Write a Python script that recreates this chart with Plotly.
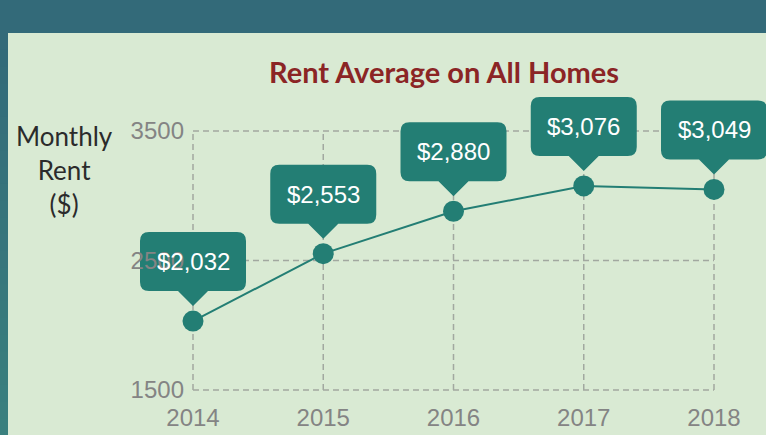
import plotly.graph_objects as go

years = [2014, 2015, 2016, 2017, 2018]
rent = [2032, 2553, 2880, 3076, 3049]
labels = ["$2,032", "$2,553", "$2,880", "$3,076", "$3,049"]
y_ticks = [1500, 2500, 3500]
y_title_lines = ["Monthly", "Rent", "($)"]
title = "Rent Average on All Homes"

TEAL = "#237e74"
BG_TOP = (51, 106, 121)
BG_BOT = (58, 128, 126)
PANEL = "#d9ead3"
GRID = "#a2a8a0"
TICK = "#848484"

# layout geometry (pixels)
ML, MR, MT, MB = 130, 0, 88, 40
W_FIG, H_FIG = 766, 435
PW, PH = W_FIG - ML - MR, H_FIG - MT - MB
X_RANGE = [2013.5163, 2013.5163 + PW / 130.25]
Y_RANGE = [1500 - 5 / 0.1295, 1500 - 5 / 0.1295 + PH / 0.1295]

def px_to_paper_x(px):
    return (px - ML) / PW

def px_to_paper_y(py):
    return (H_FIG - MB - py) / PH

fig = go.Figure()
fig.add_trace(go.Scatter(
    x=years, y=rent, mode="lines+markers",
    line=dict(color=TEAL, width=2),
    marker=dict(color=TEAL, size=21),
    cliponaxis=False, hoverinfo="skip", showlegend=False,
))

shapes = []
# dark frame (top band + left strip with a gentle gradient)
shapes.append(dict(type="rect", xref="paper", yref="paper",
                   x0=px_to_paper_x(-5), x1=px_to_paper_x(W_FIG + 5),
                   y0=px_to_paper_y(-5), y1=px_to_paper_y(33),
                   fillcolor="rgb(%d,%d,%d)" % BG_TOP, line=dict(width=0), layer="below"))
N = 24
for i in range(N):
    t = i / (N - 1)
    c = tuple(round(BG_TOP[k] + (BG_BOT[k] - BG_TOP[k]) * t) for k in range(3))
    y0 = 33 + (H_FIG - 33) * i / N
    y1 = 33 + (H_FIG - 33) * (i + 1) / N + 1
    shapes.append(dict(type="rect", xref="paper", yref="paper",
                       x0=px_to_paper_x(-5), x1=px_to_paper_x(8),
                       y0=px_to_paper_y(y1), y1=px_to_paper_y(y0),
                       fillcolor="rgb(%d,%d,%d)" % c, line=dict(width=0), layer="below"))

# dashed grid limited to the data frame
for x in years:
    shapes.append(dict(type="line", xref="x", yref="y", x0=x, x1=x,
                       y0=y_ticks[0], y1=y_ticks[-1],
                       line=dict(color=GRID, width=1.5, dash="6px,4px"), layer="below"))
for y in y_ticks:
    shapes.append(dict(type="line", xref="x", yref="y", x0=years[0], x1=years[-1],
                       y0=y, y1=y,
                       line=dict(color=GRID, width=1.5, dash="6px,4px"), layer="below"))

# callout bubbles (pixel-sized, anchored at each data point)
BW, BH, R, B = 53, 59, 9, 30
def callout_path():
    l, r, b, t = -BW, BW, B, B + BH
    return (f"M {l+R},{t} L {r-R},{t} Q {r},{t} {r},{t-R} L {r},{b+R} Q {r},{b} {r-R},{b} "
            f"L 15,{b} L 0,{b-15} L -15,{b} L {l+R},{b} Q {l},{b} {l},{b+R} "
            f"L {l},{t-R} Q {l},{t} {l+R},{t} Z")

for x, y in zip(years, rent):
    shapes.append(dict(type="path", xref="x", yref="y", xsizemode="pixel", ysizemode="pixel",
                       xanchor=x, yanchor=y, path=callout_path(), fillcolor=TEAL,
                       line=dict(width=0), layer="between"))

annotations = []
for x, y, t in zip(years, rent, labels):
    annotations.append(dict(x=x, y=y, xref="x", yref="y", text=t, showarrow=False,
                            yshift=B + BH / 2,
                            font=dict(family="Liberation Sans, Arial", size=24, color="white")))

annotations.append(dict(xref="paper", yref="paper", x=px_to_paper_x(444), y=px_to_paper_y(71),
                        text="<b>%s</b>" % title, showarrow=False,
                        xanchor="center", yanchor="middle",
                        font=dict(family="Lato", size=29, color="#8b2525")))
annotations.append(dict(xref="paper", yref="paper", x=px_to_paper_x(64), y=px_to_paper_y(170),
                        text="<br>".join(y_title_lines), showarrow=False,
                        xanchor="center", yanchor="middle", align="center",
                        font=dict(family="Lato", size=26, color="#2b2b2b")))

fig.update_layout(
    width=W_FIG, height=H_FIG,
    margin=dict(l=ML, r=MR, t=MT, b=MB),
    paper_bgcolor=PANEL, plot_bgcolor="rgba(0,0,0,0)",
    shapes=shapes, annotations=annotations,
    xaxis=dict(range=X_RANGE, tickvals=years, ticktext=[str(v) for v in years],
               showgrid=False, zeroline=False, showline=False, ticks="",
               ticklabelstandoff=6,
               tickfont=dict(family="Liberation Sans, Arial", size=24, color=TICK)),
    yaxis=dict(range=Y_RANGE, tickvals=y_ticks, anchor="free",
               position=px_to_paper_x(193),
               showgrid=False, zeroline=False, showline=False, ticks="",
               ticklabelstandoff=9,
               tickfont=dict(family="Liberation Sans, Arial", size=24, color=TICK)),
)

fig.write_html("out.html", config={"displayModeBar": False},
               post_script="document.body.style.margin='0';document.body.style.overflow='hidden';")
